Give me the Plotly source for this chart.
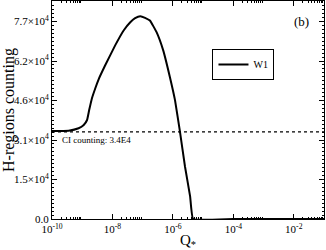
import plotly.graph_objects as go

log_q = [-10.0, -9.45, -9.12, -8.95, -8.84, -8.77, -8.68, -8.57, -8.46, -8.24, -7.91,
         -7.63, -7.41, -7.25, -7.08, -6.92, -6.76, -6.54, -6.32, -6.10, -5.93, -5.77,
         -5.60, -5.43, -5.33, -4.0, -2.0, -1.0]
counts = [34300, 34450, 35380, 36660, 38600, 42470, 47010, 50890, 54380, 59930, 67690,
          73510, 76730, 78280, 79050, 78430, 77380, 72850, 65750, 55390, 46350, 34330,
          20480, 8840, 0, 0, 0, 0]
q_vals = [10 ** v for v in log_q]

ci_level = 34000
y_ticks = [0, 15400, 30800, 46200, 61600, 77000]
y_labels = ["0.0", "1.5×10<sup>4</sup>", "3.1×10<sup>4</sup>", "4.6×10<sup>4</sup>",
            "6.2×10<sup>4</sup>", "7.7×10<sup>4</sup>"]
x_ticks = [1e-10, 1e-8, 1e-6, 1e-4, 1e-2]
x_labels = ["10<sup>-10</sup>", "10<sup>-8</sup>", "10<sup>-6</sup>", "10<sup>-4</sup>", "10<sup>-2</sup>"]
x_minor = [k * 10 ** e for e in [-10, -8, -6, -4, -2] for k in range(2, 10)]

FONT = "Liberation Serif, Times New Roman, serif"

fig = go.Figure()
fig.add_trace(go.Scatter(x=[1e-10, 1e-1], y=[ci_level, ci_level], mode="lines",
                         line=dict(color="black", width=1.2, dash="dot"), showlegend=False))
fig.add_trace(go.Scatter(x=q_vals, y=counts, mode="lines", name="W1",
                         line=dict(color="black", width=2, shape="spline", smoothing=0.3)))

axis_common = dict(showline=True, linecolor="black", linewidth=1, mirror="ticks",
                   ticks="inside", ticklen=5, tickcolor="black", showgrid=False,
                   zeroline=False, automargin=False,
                   tickfont=dict(family=FONT, size=11, color="black"))

fig.update_xaxes(type="log", range=[-10, -1], tickvals=x_ticks, ticktext=x_labels,
                 minor=dict(tickvals=x_minor, ticks="inside", ticklen=2, tickcolor="black"),
                 title=dict(text="Q<sub>*</sub>", font=dict(family=FONT, size=15, color="black"),
                            standoff=2),
                 **axis_common)
fig.update_yaxes(range=[0, 85000], tickvals=y_ticks, ticktext=y_labels,
                 minor=dict(dtick=1540, ticks="inside", ticklen=2, tickcolor="black"),
                 title=dict(text="H-regions counting", font=dict(family=FONT, size=16, color="black"),
                            standoff=2),
                 **axis_common)

fig.add_annotation(x=-9.74, y=30840, xref="x", yref="y", text="CI counting: 3.4E4",
                   showarrow=False, xanchor="left", yanchor="middle",
                   font=dict(family=FONT, size=9, color="black"))
fig.add_annotation(x=0.952, y=0.904, xref="paper", yref="paper", text="(b)",
                   showarrow=False, xanchor="right", yanchor="middle",
                   font=dict(family=FONT, size=13, color="black"))

fig.update_layout(
    width=326, height=250,
    margin=dict(l=52, r=2, t=1, b=31),
    paper_bgcolor="white", plot_bgcolor="white",
    legend=dict(x=0.59, y=0.78, xanchor="left", yanchor="top",
                bordercolor="black", borderwidth=1, bgcolor="white",
                font=dict(family=FONT, size=10, color="black"),
                itemwidth=30, tracegroupgap=0),
)

fig.write_html("out.html", config={"displayModeBar": False},
               post_script="document.body.style.margin='0px';document.body.style.padding='0px';document.body.style.overflow='hidden';")
